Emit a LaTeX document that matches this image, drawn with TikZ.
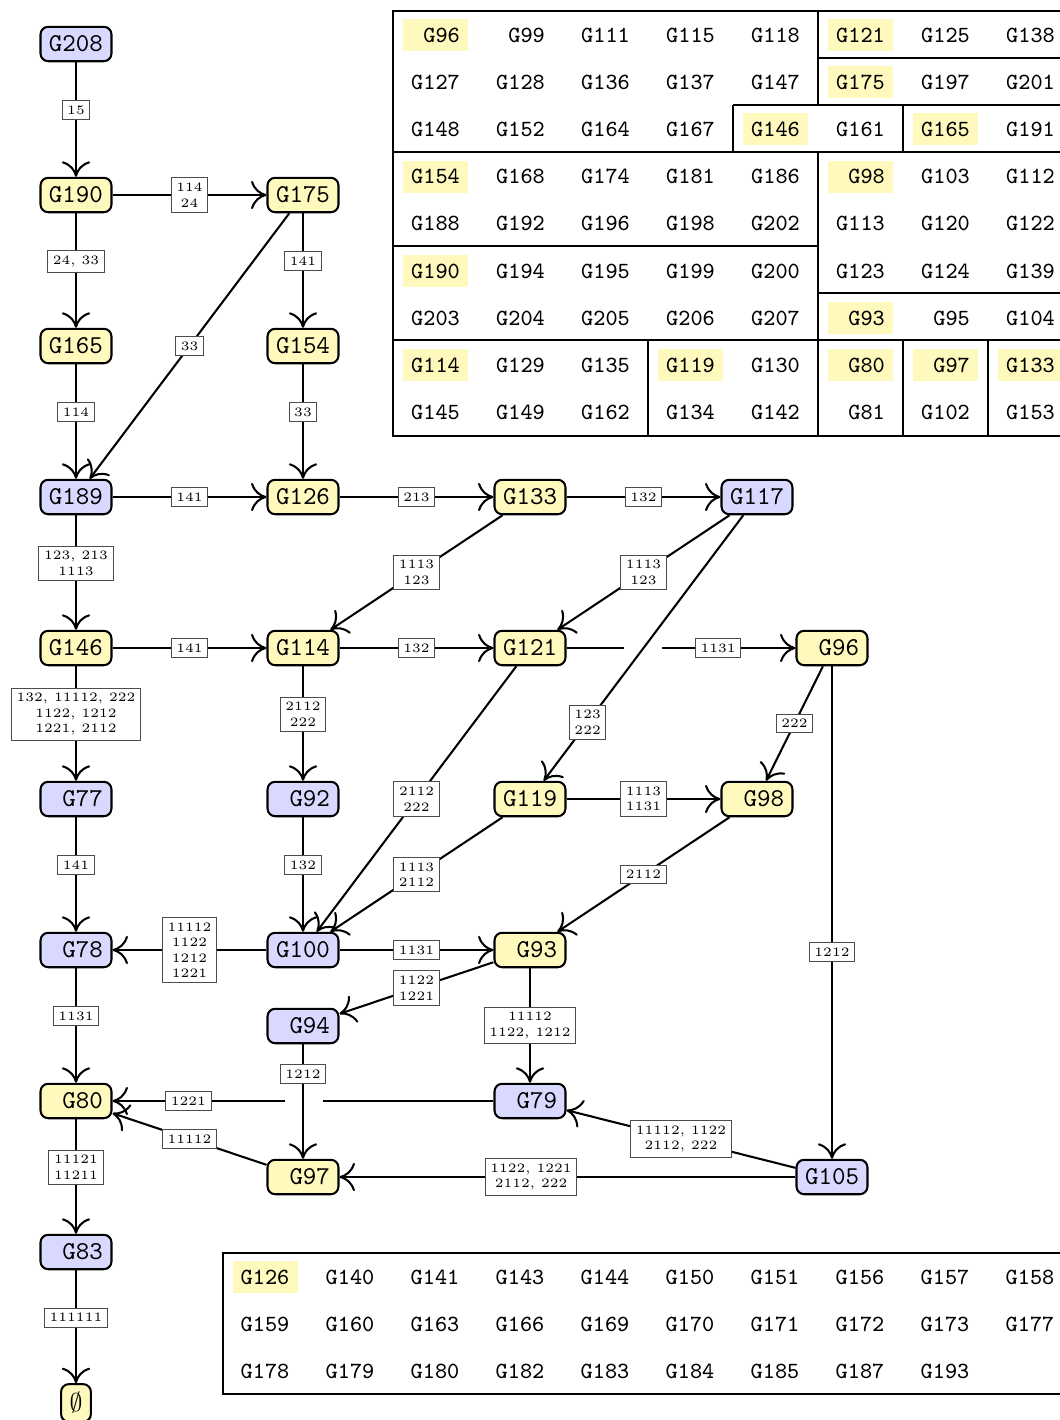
\documentclass[tikz,border=0pt]{standalone}
\usetikzlibrary{arrows.meta}
\definecolor{stateyellow}{RGB}{255,249,190}
\definecolor{stateblue}{RGB}{217,217,255}
\tikzset{
  state/.style={draw,thick,rounded corners=3pt,font=\ttfamily,inner sep=3.3pt,minimum height=13.4pt},
  ys/.style={state,fill=stateyellow,text width=21pt,align=right},
  bs/.style={state,fill=stateblue,text width=21pt,align=right},
  lbl/.style={draw=black!70,fill=white,font=\tiny,inner sep=2pt,align=center,line width=0.4pt},
  arr/.style={thick,-{Computer Modern Rightarrow[length=6pt,width=11pt]}},
  cell/.style={font=\small\ttfamily,text width=18.9pt,align=right,inner sep=0pt}
}
\begin{document}
\begin{tikzpicture}[x=0.3889pt,y=-0.3889pt]
\useasboundingbox (0,0) rectangle (1060,1420);
% states
\node[bs] (G208) at (76,44) {G208};
\node[ys] (G190) at (76,195) {G190};
\node[ys] (G175) at (303,195) {G175};
\node[ys] (G165) at (76,346) {G165};
\node[ys] (G154) at (303,346) {G154};
\node[bs] (G189) at (76,497) {G189};
\node[ys] (G126) at (303,497) {G126};
\node[ys] (G133) at (530,497) {G133};
\node[bs] (G117) at (757,497) {G117};
\node[ys] (G146) at (76,648) {G146};
\node[ys] (G114) at (303,648) {G114};
\node[ys] (G121) at (530,648) {G121};
\node[ys] (G96) at (832,648) {G96};
\node[bs] (G77) at (76,799) {G77};
\node[bs] (G92) at (303,799) {G92};
\node[ys] (G119) at (530,799) {G119};
\node[ys] (G98) at (757,799) {G98};
\node[bs] (G78) at (76,950) {G78};
\node[bs] (G100) at (303,950) {G100};
\node[ys] (G93) at (530,950) {G93};
\node[bs] (G94) at (303,1026) {G94};
\node[ys] (G80) at (76,1101) {G80};
\node[bs] (G79) at (530,1101) {G79};
\node[ys] (G97) at (303,1177) {G97};
\node[bs] (G105) at (832,1177) {G105};
\node[bs] (G83) at (76,1252) {G83};
\node[state,fill=stateyellow] (G0) at (76,1403) {$\emptyset$};
% gaps at crossings
\coordinate (c1) at (624,648);
\coordinate (c2) at (662,648);
\coordinate (c3) at (323,1101);
\coordinate (c4) at (285,1101);
% transitions
\draw[arr] (G208) -- node[lbl,pos=0.42] {15} (G190);
\draw[arr] (G190) -- node[lbl] {114\\24} (G175);
\draw[arr] (G190) -- node[lbl,pos=0.42] {24, 33} (G165);
\draw[arr] (G175) -- node[lbl] {33} (G189);
\draw[arr] (G175) -- node[lbl,pos=0.42] {141} (G154);
\draw[arr] (G165) -- node[lbl,pos=0.42] {114} (G189);
\draw[arr] (G154) -- node[lbl,pos=0.42] {33} (G126);
\draw[arr] (G189) -- node[lbl] {141} (G126);
\draw[arr] (G126) -- node[lbl] {213} (G133);
\draw[arr] (G133) -- node[lbl] {132} (G117);
\draw[arr] (G133) -- node[lbl] {1113\\123} (G114);
\draw[arr] (G117) -- node[lbl] {1113\\123} (G121);
\draw[arr] (G117) -- node[lbl,pos=0.78] {123\\222} (G119);
\draw[arr] (G189) -- node[lbl,pos=0.42] {123, 213\\1113} (G146);
\draw[arr] (G146) -- node[lbl] {141} (G114);
\draw[arr] (G114) -- node[lbl] {132} (G121);
\draw[thick] (G121) -- (c1);
\draw[arr] (c2) -- node[lbl,pos=0.42] {1131} (G96);
\draw[arr] (G121) -- node[lbl] {2112\\222} (G100);
\draw[arr] (G114) -- node[lbl,pos=0.42] {2112\\222} (G92);
\draw[arr] (G146) -- node[lbl,pos=0.42] {132, 11112, 222\\1122, 1212\\1221, 2112} (G77);
\draw[arr] (G96) -- node[lbl] {222} (G98);
\draw[arr] (G96) -- node[lbl,pos=0.58] {1212} (G105);
\draw[arr] (G119) -- node[lbl] {1113\\1131} (G98);
\draw[arr] (G119) -- node[lbl] {1113\\2112} (G100);
\draw[arr] (G98) -- node[lbl] {2112} (G93);
\draw[arr] (G77) -- node[lbl,pos=0.42] {141} (G78);
\draw[arr] (G92) -- node[lbl,pos=0.42] {132} (G100);
\draw[arr] (G100) -- node[lbl] {11112\\1122\\1212\\1221} (G78);
\draw[arr] (G100) -- node[lbl] {1131} (G93);
\draw[arr] (G93) -- node[lbl] {1122\\1221} (G94);
\draw[arr] (G93) -- node[lbl] {11112\\1122, 1212} (G79);
\draw[arr] (G78) -- node[lbl,pos=0.42] {1131} (G80);
\draw[thick] (G79) -- (c3);
\draw[arr] (c4) -- node[lbl,pos=0.56] {1221} (G80);
\draw[arr] (G97) -- node[lbl] {11112} (G80);
\draw[arr] (G94) -- node[lbl,pos=0.26] {1212} (G97);
\draw[arr] (G105) -- node[lbl] {11112, 1122\\2112, 222} (G79);
\draw[arr] (G105) -- node[lbl,pos=0.58] {1122, 1221\\2112, 222} (G97);
\draw[arr] (G80) -- node[lbl,pos=0.42] {11121\\11211} (G83);
\draw[arr] (G83) -- node[lbl,pos=0.42] {111111} (G0);
% top table
\foreach \c/\r in {0/0,5/0,5/1,4/2,6/2,0/3,5/3,0/5,5/6,0/7,3/7,5/7,6/7,7/7}
  \fill[stateyellow] (403+85*\c,19+47.2*\r) rectangle ++(65,32);
\foreach \rowlist [count=\r from 0] in {
  {96,99,111,115,118,121,125,138},
  {127,128,136,137,147,175,197,201},
  {148,152,164,167,146,161,165,191},
  {154,168,174,181,186,98,103,112},
  {188,192,196,198,202,113,120,122},
  {190,194,195,199,200,123,124,139},
  {203,204,205,206,207,93,95,104},
  {114,129,135,119,130,80,97,133},
  {145,149,162,134,142,81,102,153}}
  \foreach \g [count=\c from 0] in \rowlist
    \node[cell] at (435.5+85*\c,35+47.2*\r) {G\g};
\draw[thick] (393,11) rectangle (1075,436);
\draw[thick] (818,11) -- (818,105);
\draw[thick] (818,58) -- (1075,58);
\draw[thick] (733,105) -- (1075,105);
\draw[thick] (733,105) -- (733,152);
\draw[thick] (903,105) -- (903,152);
\draw[thick] (393,152) -- (1075,152);
\draw[thick] (818,152) -- (818,436);
\draw[thick] (393,246) -- (818,246);
\draw[thick] (818,293) -- (1075,293);
\draw[thick] (393,340) -- (1075,340);
\draw[thick] (648,340) -- (648,436);
\draw[thick] (903,340) -- (903,436);
\draw[thick] (988,340) -- (988,436);
% bottom table
\fill[stateyellow] (232.5,1261) rectangle ++(65,32);
\foreach \rowlist [count=\r from 0] in {
  {126,140,141,143,144,150,151,156,157,158},
  {159,160,163,166,169,170,171,172,173,177},
  {178,179,180,182,183,184,185,187,193}}
  \foreach \g [count=\c from 0] in \rowlist
    \node[cell] at (265+85*\c,1277+47.2*\r) {G\g};
\draw[thick] (223,1253) rectangle (1075,1394);
\end{tikzpicture}
\end{document}
